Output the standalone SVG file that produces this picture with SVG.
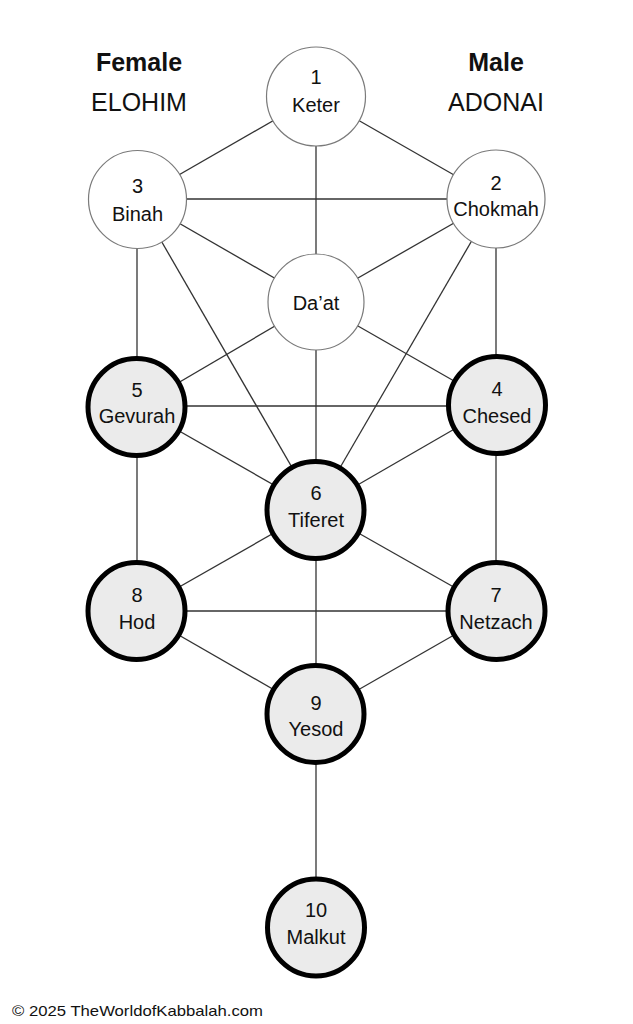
<svg xmlns="http://www.w3.org/2000/svg" width="633" height="1024" viewBox="0 0 633 1024">
<style>
.bg{fill:#ffffff}
.ln{stroke:#333333;stroke-width:1.3;fill:none}
.thin{fill:#ffffff;stroke:#7a7a7a;stroke-width:1.2}
.thick{fill:#ebebeb;stroke:#000000;stroke-width:5}
.t{font-family:"Liberation Sans",Arial,sans-serif;font-size:20px;fill:#111111;text-anchor:middle}
.hb{font-family:"Liberation Sans",Arial,sans-serif;font-size:25px;font-weight:bold;fill:#111111;text-anchor:middle}
.hn{font-family:"Liberation Sans",Arial,sans-serif;font-size:25px;fill:#111111;text-anchor:middle}
.ft{font-family:"Liberation Sans",Arial,sans-serif;font-size:15px;fill:#111111}
</style>
<rect class="bg" x="0" y="0" width="633" height="1024"/>
<g id="connectors">
<line class="ln" x1="316" y1="96" x2="137" y2="199"/>
<line class="ln" x1="316" y1="96" x2="496" y2="199"/>
<line class="ln" x1="316" y1="96" x2="316" y2="302"/>
<line class="ln" x1="137" y1="199" x2="496" y2="199"/>
<line class="ln" x1="137" y1="199" x2="316" y2="302"/>
<line class="ln" x1="496" y1="199" x2="316" y2="302"/>
<line class="ln" x1="137" y1="199" x2="137" y2="407"/>
<line class="ln" x1="496" y1="199" x2="496" y2="405"/>
<line class="ln" x1="137" y1="199" x2="316" y2="509"/>
<line class="ln" x1="496" y1="199" x2="316" y2="509"/>
<line class="ln" x1="316" y1="302" x2="137" y2="407"/>
<line class="ln" x1="316" y1="302" x2="496" y2="405"/>
<line class="ln" x1="316" y1="302" x2="316" y2="509"/>
<line class="ln" x1="137" y1="406" x2="496" y2="406"/>
<line class="ln" x1="137" y1="407" x2="316" y2="509"/>
<line class="ln" x1="496" y1="405" x2="316" y2="509"/>
<line class="ln" x1="137" y1="407" x2="137" y2="611"/>
<line class="ln" x1="496" y1="405" x2="496" y2="611"/>
<line class="ln" x1="316" y1="509" x2="137" y2="611"/>
<line class="ln" x1="316" y1="509" x2="496" y2="611"/>
<line class="ln" x1="316" y1="509" x2="316" y2="714"/>
<line class="ln" x1="137" y1="611" x2="496" y2="611"/>
<line class="ln" x1="137" y1="611" x2="316" y2="714"/>
<line class="ln" x1="496" y1="611" x2="316" y2="714"/>
<line class="ln" x1="316" y1="714" x2="316" y2="927"/>
</g>
<g id="keter"><circle class="thin" cx="316" cy="96.5" r="49.5"/><text class="t" x="316" y="84">1</text><text class="t" x="316" y="112">Keter</text></g>
<g id="binah"><circle class="thin" cx="137.5" cy="199.5" r="49"/><text class="t" x="137.5" y="193">3</text><text class="t" x="137.5" y="221">Binah</text></g>
<g id="chokmah"><circle class="thin" cx="496" cy="199" r="49"/><text class="t" x="496" y="190">2</text><text class="t" x="496" y="216">Chokmah</text></g>
<g id="daat"><circle class="thin" cx="316" cy="302" r="48"/><text class="t" x="316" y="310">Da’at</text></g>
<g id="gevurah"><circle class="thick" cx="136.5" cy="407" r="48.5"/><text class="t" x="137" y="397">5</text><text class="t" x="137" y="423">Gevurah</text></g>
<g id="chesed"><circle class="thick" cx="497" cy="405" r="48.5"/><text class="t" x="497" y="396">4</text><text class="t" x="497" y="423">Chesed</text></g>
<g id="tiferet"><circle class="thick" cx="315.5" cy="510" r="48.5"/><text class="t" x="316" y="500">6</text><text class="t" x="316" y="527">Tiferet</text></g>
<g id="hod"><circle class="thick" cx="136.5" cy="611" r="48.5"/><text class="t" x="137" y="602">8</text><text class="t" x="137" y="629">Hod</text></g>
<g id="netzach"><circle class="thick" cx="496.5" cy="611" r="48.5"/><text class="t" x="496" y="602">7</text><text class="t" x="496" y="629">Netzach</text></g>
<g id="yesod"><circle class="thick" cx="315.5" cy="714" r="48.5"/><text class="t" x="316" y="710">9</text><text class="t" x="316" y="736">Yesod</text></g>
<g id="malkut"><circle class="thick" cx="316" cy="927.5" r="48.5"/><text class="t" x="316" y="917">10</text><text class="t" x="316" y="944">Malkut</text></g>
<g id="female"><text class="hb" x="139" y="71">Female</text><text class="hn" x="139" y="111">ELOHIM</text></g>
<g id="male"><text class="hb" x="496" y="71">Male</text><text class="hn" x="496" y="111">ADONAI</text></g>
<text class="ft" x="12" y="1016" textLength="251" lengthAdjust="spacingAndGlyphs">© 2025 TheWorldofKabbalah.com</text>
</svg>
